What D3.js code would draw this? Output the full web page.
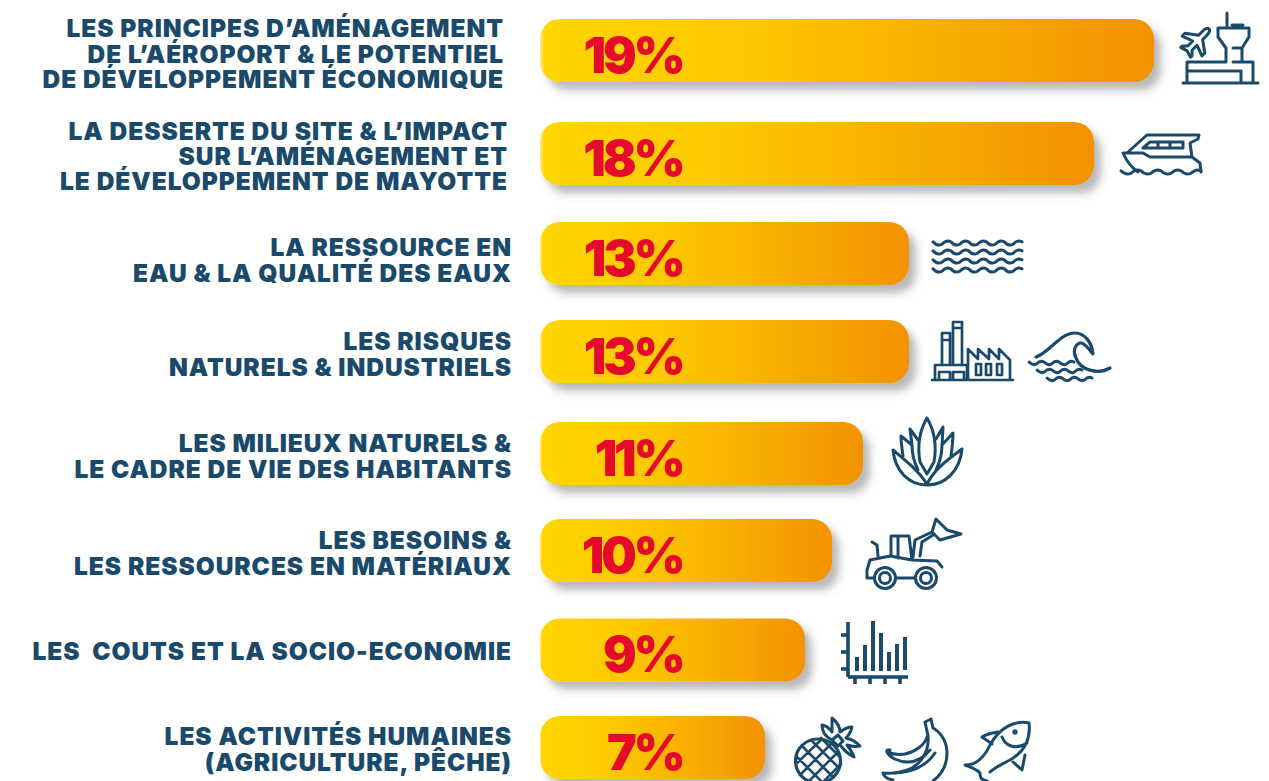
<!DOCTYPE html>
<html>
<head>
<meta charset="utf-8">
<script src="https://cdnjs.cloudflare.com/ajax/libs/d3/7.8.5/d3.min.js"></script>
<style>
  html, body { margin: 0; padding: 0; background: #fff; overflow: hidden; }
  svg { display: block; }
</style>
</head>
<body>
<div id="chart"></div>
<script>
var categories = [
    ['LES PRINCIPES D’AMÉNAGEMENT', 'DE L’AÉROPORT & LE POTENTIEL', 'DE DÉVELOPPEMENT ÉCONOMIQUE'],
    ['LA DESSERTE DU SITE & L’IMPACT', 'SUR L’AMÉNAGEMENT ET', 'LE DÉVELOPPEMENT DE MAYOTTE'],
    ['LA RESSOURCE EN', 'EAU & LA QUALITÉ DES EAUX'],
    ['LES RISQUES', 'NATURELS & INDUSTRIELS'],
    ['LES MILIEUX NATURELS &', 'LE CADRE DE VIE DES HABITANTS'],
    ['LES BESOINS &', 'LES RESSOURCES EN MATÉRIAUX'],
    ['LES  COUTS ET LA SOCIO-ECONOMIE'],
    ['LES ACTIVITÉS HUMAINES', '(AGRICULTURE, PÊCHE)']
];
var values = [19, 18, 13, 13, 11, 10, 9, 7];
var rows = d3.range(values.length);

var navy = '#1a4a6b';
var red = '#e30a2b';

var svg = d3.select('#chart').append('svg')
    .attr('width', 1269)
    .attr('height', 781);

var defs = svg.append('defs');

var gradient = defs.append('linearGradient').attr('id', 'barFill');
gradient.append('stop').attr('offset', '0%').attr('stop-color', '#ffe88a');
gradient.append('stop').attr('offset', '0.8%').attr('stop-color', '#ffd600');
gradient.append('stop').attr('offset', '35%').attr('stop-color', '#fdc700');
gradient.append('stop').attr('offset', '100%').attr('stop-color', '#f39200');

var shadow = defs.append('filter').attr('id', 'barShadow')
    .attr('x', '-5%').attr('y', '-20%').attr('width', '112%').attr('height', '150%');
shadow.append('feDropShadow')
    .attr('dx', 7).attr('dy', 8).attr('stdDeviation', 4)
    .attr('flood-color', '#555').attr('flood-opacity', 0.42);

// the bars of the original are not proportional, so the scale has a knot per value
var x = d3.scaleLinear()
    .domain([7, 9, 10, 11, 13, 18, 19])
    .range([765, 805, 832, 863, 909, 1094, 1154]);

var y = d3.scaleOrdinal()
    .domain(rows)
    .range([50.5, 153.5, 253.5, 351.5, 453.5, 550.5, 650, 747.5]);

var labelRight = d3.scaleOrdinal()
    .domain(rows)
    .range([504, 508, 512, 512, 512, 512, 512, 512]);

// the label blocks are not quite centred on their bars
var labelShift = d3.scaleOrdinal()
    .domain(rows)
    .range([0.5, 0, 4, 0, 0, 0, -2, -1]);

var barLeft = 540;
var barHeight = 63;

svg.append('g').selectAll('rect')
    .data(rows)
    .enter()
    .append('rect')
    .attr('x', barLeft)
    .attr('y', d => y(d) - barHeight / 2)
    .attr('width', d => x(values[d]) - barLeft)
    .attr('height', barHeight)
    .attr('rx', 20)
    .attr('fill', 'url(#barFill)')
    .attr('filter', 'url(#barShadow)');

svg.append('g').selectAll('text')
    .data(rows)
    .enter()
    .append('text')
    .text(d => values[d] + '%')
    .attr('x', 682.5)
    .attr('y', d => y(d) + 22)
    .attr('text-anchor', 'end')
    .style('font-family', 'Inter')
    .style('font-weight', 900)
    .style('font-size', '50px')
    .style('letter-spacing', '-3.2px')
    .style('fill', red);

var labels = svg.append('g').selectAll('g')
    .data(rows)
    .enter()
    .append('g');

labels.selectAll('text')
    .data(d => categories[d].map((line, i) => ({ row: d, line: line, i: i, n: categories[d].length })))
    .enter()
    .append('text')
    .text(d => d.line)
    .attr('x', d => labelRight(d.row))
    .attr('y', d => y(d.row) + labelShift(d.row) + (d.i - (d.n - 1) / 2) * 25.2 + 11.5)
    .attr('text-anchor', 'end')
    .attr('xml:space', 'preserve')
    .style('white-space', 'pre')
    .style('font-family', 'Inter')
    .style('font-weight', 900)
    .style('font-size', '24.5px')
    .style('letter-spacing', '0.95px')
    .style('fill', navy);

// icons, drawn by hand next to the bars
var icons = svg.append('g')
    .attr('fill', 'none')
    .attr('stroke', navy)
    .attr('stroke-width', 3)
    .attr('stroke-linecap', 'round')
    .attr('stroke-linejoin', 'round');

function icon(d, w) {
    return icons.append('path').attr('d', d).attr('stroke-width', w || 3);
}

function wave(x0, yy, period, amp, n) {
    var p = d3.path();
    p.moveTo(x0, yy - amp / 2);
    var cx = x0;
    for (var i = 0; i < n; i++) {
        var sign = i % 2 ? -1 : 1;
        p.quadraticCurveTo(cx + period / 4, yy + sign * amp * 1.5, cx + period / 2, yy + sign * amp / 2);
        cx += period / 2;
    }
    return p.toString();
}

// airport
icon('M1227,13V28 M1232,25H1243 M1218,28H1249V37L1242,48V62 M1218,28V37L1226,48V62 M1233,48H1242 M1233,62H1253V83 M1226,62H1187V83 M1187,71H1241V83 M1183,83H1258');
icons.append('path')
    .attr('transform', 'translate(1197,41) rotate(45)')
    .attr('d', 'M0,-17C3,-17 3,-12 3,-8L3,-5L14,3L14,7L3,3L3,10L7,14L7,16L0,14L-7,16L-7,14L-3,10L-3,3L-14,7L-14,3L-3,-5L-3,-8C-3,-12 -3,-17 0,-17Z');

// boat
icon('M1123,153H1143L1150,157H1192L1200,163L1201,172 M1123,153C1127,162 1132,168 1138,172 M1128,152L1147,135H1199L1198,139L1190,143L1192,157 M1150,142H1183V148H1143Z M1158,142V148 M1170,142V148');
icon(wave(1121, 172, 20, 2.5, 8));

// water
[243, 252, 261, 270].forEach(function(yy) {
    icon(wave(933, yy, 17.8, 2.5, 10));
});

// factory
icon('M932,380H1013 M935,380V365H967V380 M939,380V372H950V380 M953,380V372H964V380 M942,365V340H950V365 M942,333H950V340H942Z M953,365V328H962V365 M953,322H962V328H953Z M968,380V349L978,359V349L989,359V349L999,359V349L1010,360V380 M976,364H981V375H976Z M986,364H991V375H986Z M997,364H1002V375H997Z', 2.7);

// big wave
icon('M1036,357C1050,352 1060,333 1075,333C1085,333 1092,343 1093,354C1087,346 1083,342 1080,343C1074,345 1073,352 1076,358C1080,370 1098,375 1110,368', 3.2);
icon(wave(1029, 363, 15, 2, 6));
icon(wave(1037, 371, 15, 2, 6));
icon(wave(1047, 379, 15, 2, 6));

// agave
icon('M927,484C918,470 905,460 893,450C895,470 908,485 927,485C946,485 960,470 962,449C950,458 935,468 927,484');
icon('M927,418C920,430 917,445 920,462L927,474L934,462C937,445 934,430 927,418');
icon('M903,456C902,449 901,442 901,436L912,445L910,429L918,440 M918,470C914,462 912,454 912,445 M951,456C952,449 953,441 953,433L942,445L943,427L936,439 M936,470C940,462 942,454 942,445');

// loader
icons.append('circle').attr('cx', 885).attr('cy', 578).attr('r', 10.5);
icons.append('circle').attr('cx', 885).attr('cy', 578).attr('r', 5.5);
icons.append('circle').attr('cx', 926).attr('cy', 578).attr('r', 10.5);
icons.append('circle').attr('cx', 926).attr('cy', 578).attr('r', 5.5);
icon('M897,578H915 M874,578H867V570L870,560L890,556L912,560L937,561L942,567 M891,556V536H909L912,560 M898,536V558 M872,542L877,545L878,556 M913,557L915,540L932,532 M920,556L922,542L933,535 M936,519L932,532L940,540L961,534L947,530Z');

// small bar chart
icon('M848,622V677 M841,635H848 M841,652H848 M841,669H848 M848,677H908 M855,677V684 M870,677V684 M885,677V684 M900,677V684', 3.6).attr('stroke-linecap', 'butt');
icon('M857,671V657 M865,671V645 M873,671V621 M881,671V633 M889,671V652 M897,671V644 M905,670V637', 4).attr('stroke-linecap', 'butt');

// pineapple
icons.append('ellipse').attr('cx', 818).attr('cy', 761).attr('rx', 22.5).attr('ry', 22).attr('stroke-width', 3.2);
icon('M802,746L832,776 M797,757L821,781 M811,740L838,767 M821,738L840,757 M800,775L832,743 M797,763L822,739 M808,782L838,752 M820,785L841,764', 2.6);
icon('M832,740C824,736 822,730 822,725C827,726 830,729 832,732C832,727 832,722 832,718C837,722 840,727 840,732C844,729 848,727 852,727C851,732 849,735 846,738C851,739 856,742 860,746C855,747 850,746 847,745C850,749 853,753 854,757C848,754 844,750 841,746 M832,740L838,735L843,741L838,746Z');

// bananas
icon('M925,722L931,719L933,728C942,733 947,743 947,753C947,765 941,775 933,781 M925,722L927,731C931,745 925,760 912,768C904,772 892,774 883,773C884,777 887,779 893,780');
icon('M927,737C925,745 915,752 905,754C899,755 892,754 887,752C890,758 899,762 908,762C916,762 925,757 930,750 M887,752C886,751 888,749 890,750 M894,773C910,772 925,768 935,753');

// fish
icon('M1029,723C1015,720 1000,727 990,745C985,756 978,765 965,765C971,767 978,771 980,773C980,776 980,780 987,781 M1029,723C1031,740 1024,752 1010,760C1002,764 993,769 990,772 M998,732C992,733 986,734 982,737C985,739 988,741 992,744 M1002,737C1005,745 1015,751 1027,743 M1025,755L1022,770L1013,762');
icons.append('circle').attr('cx', 1015).attr('cy', 732).attr('r', 1.2);
</script>
</body>
</html>
